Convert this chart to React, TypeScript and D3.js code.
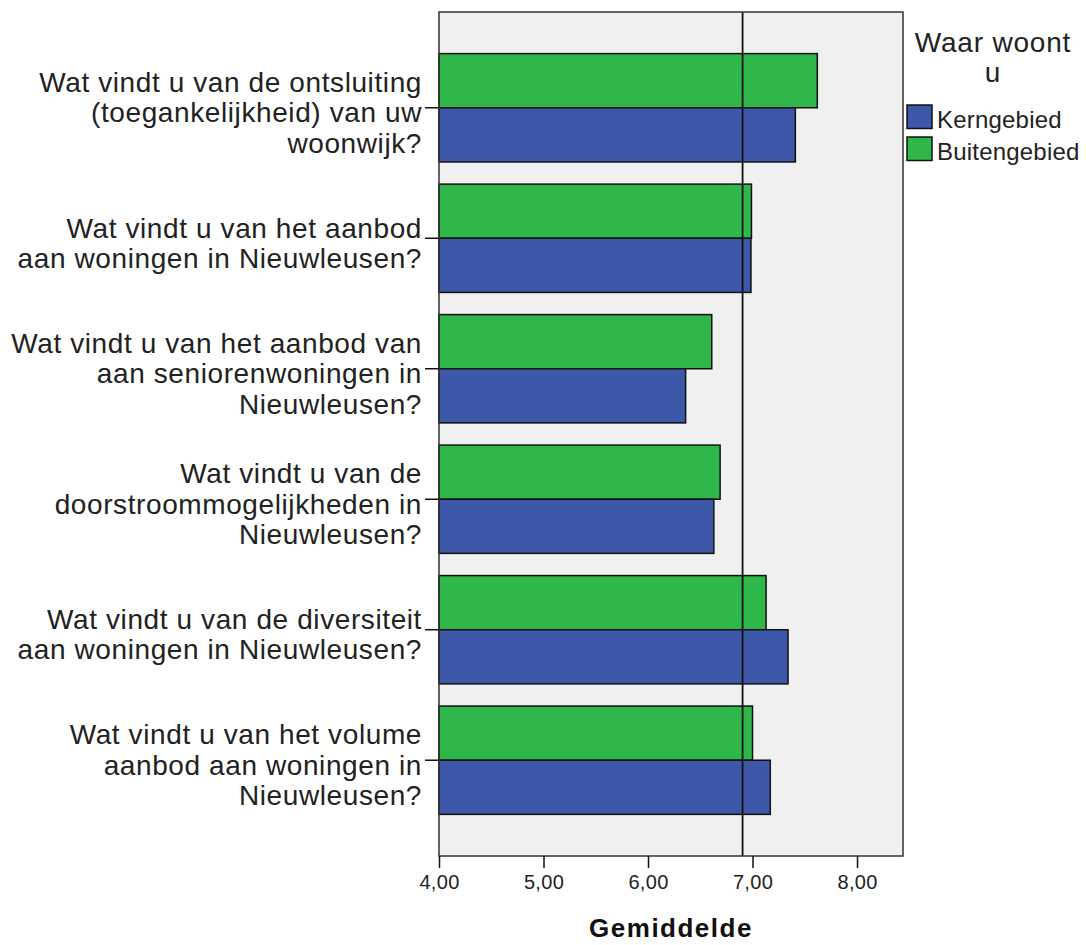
import * as d3 from "d3";
import { useEffect, useRef } from "react";

// question labels, already split in lines the way the chart wraps them
const questions: string[][] = [
  ["Wat vindt u van de ontsluiting", "(toegankelijkheid) van uw", "woonwijk?"],
  ["Wat vindt u van het aanbod", "aan woningen in Nieuwleusen?"],
  ["Wat vindt u van het aanbod van", "aan seniorenwoningen in", "Nieuwleusen?"],
  ["Wat vindt u van de", "doorstroommogelijkheden in", "Nieuwleusen?"],
  ["Wat vindt u van de diversiteit", "aan woningen in Nieuwleusen?"],
  ["Wat vindt u van het volume", "aanbod aan woningen in", "Nieuwleusen?"],
];

const groups = ["Buitengebied", "Kerngebied"];
const kerngebied = [7.41, 6.985, 6.36, 6.63, 7.34, 7.17];
const buitengebied = [7.62, 6.99, 6.61, 6.69, 7.13, 7.0];
const referenceValue = 6.905;
const xTicks = [4, 5, 6, 7, 8];

const colors: Record<string, string> = {
  Kerngebied: "#3d57a9",
  Buitengebied: "#2fb74a",
};

const FONT = "'Liberation Sans', Arial, sans-serif";

export default function App(): JSX.Element {
  const svgRef = useRef<SVGSVGElement>(null);

  useEffect(() => {
    if (!svgRef.current) return;
    const width = 1086;
    const height = 945;
    const plot = { left: 439, right: 903, top: 12, bottom: 856 };

    const svg = d3.select(svgRef.current);
    svg.selectAll("*").remove();
    svg.attr("width", width).attr("height", height);

    const x = d3.scaleLinear().domain([4, 8.44]).range([plot.left, plot.right]);
    const y = d3
      .scaleBand<number>()
      .domain(questions.map((_, i) => i))
      .range([plot.top, plot.bottom])
      .paddingInner(0.17)
      .paddingOuter(0.319);
    const ySub = d3.scaleBand().domain(groups).range([0, y.bandwidth()]);

    // plot background
    svg
      .append("rect")
      .attr("x", plot.left)
      .attr("y", plot.top)
      .attr("width", plot.right - plot.left)
      .attr("height", plot.bottom - plot.top)
      .attr("fill", "#f0f0f0");

    const rows = questions.map((q, i) => ({
      i,
      values: [
        { key: "Buitengebied", value: buitengebied[i] },
        { key: "Kerngebied", value: kerngebied[i] },
      ],
    }));

    const g = svg
      .append("g")
      .selectAll("g")
      .data(rows)
      .join("g")
      .attr("transform", (d) => `translate(0,${y(d.i)})`);

    g.selectAll("rect")
      .data((d) => d.values)
      .join("rect")
      .attr("x", x(4))
      .attr("y", (d) => ySub(d.key)!)
      .attr("width", (d) => x(d.value) - x(4))
      .attr("height", ySub.bandwidth())
      .attr("fill", (d) => colors[d.key])
      .attr("stroke", "#111")
      .attr("stroke-width", 1.5);

    // reference line
    svg
      .append("line")
      .attr("x1", x(referenceValue))
      .attr("x2", x(referenceValue))
      .attr("y1", plot.top)
      .attr("y2", plot.bottom)
      .attr("stroke", "#111")
      .attr("stroke-width", 1.8);

    // frame
    svg
      .append("rect")
      .attr("x", plot.left)
      .attr("y", plot.top)
      .attr("width", plot.right - plot.left)
      .attr("height", plot.bottom - plot.top)
      .attr("fill", "none")
      .attr("stroke", "#333")
      .attr("stroke-width", 1.5);

    // x axis
    const xAxis = svg
      .append("g")
      .attr("transform", `translate(0,${plot.bottom})`)
      .call(
        d3
          .axisBottom(x)
          .tickValues(xTicks)
          .tickSize(12)
          .tickPadding(7)
          .tickFormat((d) => d3.format(".2f")(Number(d)).replace(".", ","))
      );
    xAxis.select(".domain").remove();
    xAxis.selectAll("line").attr("stroke", "#111").attr("stroke-width", 1.5);
    xAxis
      .selectAll("text")
      .attr("fill", "#222")
      .style("font-family", FONT)
      .style("font-size", "20px")
      .style("letter-spacing", "0.3px");

    svg
      .append("text")
      .attr("x", (plot.left + plot.right) / 2)
      .attr("y", 937)
      .attr("text-anchor", "middle")
      .style("font-family", FONT)
      .style("font-size", "26px")
      .style("font-weight", "bold")
      .style("letter-spacing", "1.5px")
      .attr("fill", "#111")
      .text("Gemiddelde");

    // y category ticks and labels
    const lineGap = 30.5;
    const labels = svg.append("g");
    questions.forEach((lines, i) => {
      const cy = y(i)! + y.bandwidth() / 2;
      labels
        .append("line")
        .attr("x1", plot.left - 14)
        .attr("x2", plot.left)
        .attr("y1", cy)
        .attr("y2", cy)
        .attr("stroke", "#111")
        .attr("stroke-width", 1.5);
      const t = labels
        .append("text")
        .attr("text-anchor", "end")
        .style("font-family", FONT)
        .style("font-size", "28px")
        .style("letter-spacing", "0.6px")
        .attr("fill", "#222");
      lines.forEach((line, j) => {
        t.append("tspan")
          .attr("x", 422)
          .attr("y", cy + 14.5 + (j - (lines.length - 1) / 2) * lineGap)
          .text(line);
      });
    });

    // legend
    const legend = svg.append("g");
    const title = legend
      .append("text")
      .attr("text-anchor", "middle")
      .style("font-family", FONT)
      .style("font-size", "28px")
      .style("letter-spacing", "0.8px")
      .attr("fill", "#222");
    ["Waar woont", "u"].forEach((line, j) => {
      title.append("tspan").attr("x", 993).attr("y", 51.5 + j * 30).text(line);
    });

    const legendItems = ["Kerngebied", "Buitengebied"];
    const item = legend
      .selectAll("g.item")
      .data(legendItems)
      .join("g")
      .attr("class", "item")
      .attr("transform", (_, i) => `translate(907,${105 + i * 32})`);
    item
      .append("rect")
      .attr("width", 25)
      .attr("height", 23.5)
      .attr("fill", (d) => colors[d])
      .attr("stroke", "#111")
      .attr("stroke-width", 1.5);
    item
      .append("text")
      .attr("x", 30)
      .attr("y", 23)
      .style("font-family", FONT)
      .style("font-size", "24px")
      .style("letter-spacing", "0.2px")
      .attr("fill", "#222")
      .text((d) => d);
  }, []);

  return (
    <div style={{ position: "absolute", left: 0, top: 0 }}>
      <svg ref={svgRef} style={{ display: "block", background: "#fff" }} />
    </div>
  );
}
